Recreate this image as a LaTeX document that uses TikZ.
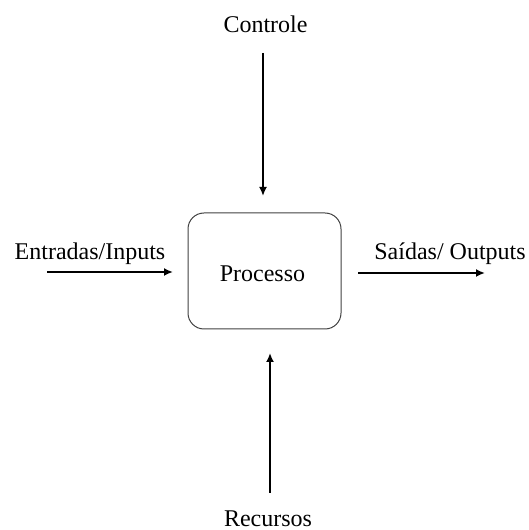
\documentclass[tikz,border=0pt]{standalone}
\usepackage{fontspec}
\setmainfont{Liberation Serif}
\usetikzlibrary{arrows.meta}
\begin{document}
\begin{tikzpicture}[x=1pt,y=1pt,
  label/.style={font=\fontsize{24}{28}\selectfont, anchor=base, inner sep=0pt},
  procbox/.style={draw=black!75, line width=1pt, rounded corners=16pt,
    minimum width=153pt, minimum height=116pt, inner sep=0pt},
  flow/.style={line width=2pt, -{Latex[length=9pt,width=8pt]}}]
\useasboundingbox (0,0) rectangle (529,530);
% central process box
\node[procbox] (proc) at (264.5,259) {};
\node[label] (proctext) at (262.5,248) {Processo};
% labels
\node[label] (ctrl) at (265.5,497) {Controle};
\node[label] (inp) at (90,270) {Entradas/Inputs};
\node[label] (outp) at (450,270) {Saídas/ Outputs};
\node[label] (res) at (268,4) {Recursos};
% arrow end points
\coordinate (ctrlA) at (263,477);
\coordinate (ctrlB) at (263,334);
\coordinate (resA) at (270,37);
\coordinate (resB) at (270,177);
\coordinate (inA) at (47,258);
\coordinate (inB) at (173,258);
\coordinate (outA) at (358,257);
\coordinate (outB) at (485,257);
% arrows
\draw[flow] (ctrlA) -- (ctrlB);
\draw[flow] (resA) -- (resB);
\draw[flow] (inA) -- (inB);
\draw[flow] (outA) -- (outB);
\end{tikzpicture}
\end{document}
